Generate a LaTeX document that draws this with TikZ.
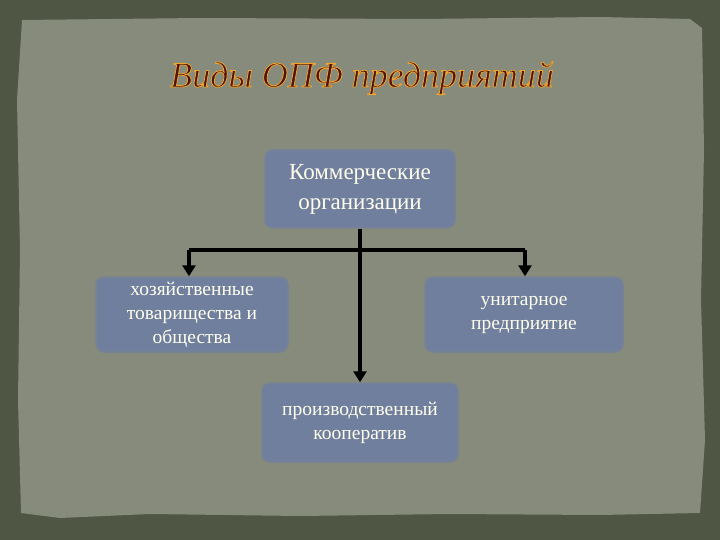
\documentclass[tikz,border=0pt]{standalone}
\usepackage{fontspec}
\setmainfont{Liberation Serif}
\usetikzlibrary{arrows.meta,positioning}
\definecolor{frame}{RGB}{80,86,68}
\definecolor{paper}{RGB}{134,139,124}
\definecolor{boxfill}{RGB}{112,127,158}
\definecolor{titlered}{RGB}{80,20,16}
% outlined title text (fill + gold stroke)
\newcommand\goldtext[1]{\special{pdf:literal direct 2 Tr 0.8 w 0.93 0.64 0.18 RG}#1\special{pdf:literal direct 0 Tr}}
\tikzset{
  orgbox/.style={draw=boxfill!70!paper, line width=1.5pt, fill=boxfill,
    rounded corners=8pt, align=center, text=white!92!yellow,
    font=\fontsize{19.5}{24}\selectfont},
  link/.style={line width=3.5pt, -{Triangle[length=11pt,width=13pt]}}
}
\begin{document}
\begin{tikzpicture}[x=1pt,y=-1pt]
  \useasboundingbox (0,0) rectangle (720,540);
  \fill[frame] (0,0) rectangle (720,540);
  \fill[paper] (22,20) -- (200,18) -- (420,19) -- (600,17)
    -- (690,19) -- (702,28) -- (704,150) -- (701,300) -- (705,440)
    -- (700,513) -- (600,515) -- (450,514) -- (300,516) -- (150,514)
    -- (60,518) -- (21,513) -- (18,400) -- (20,250) -- (17,100) -- cycle;
  \node[text=titlered, font=\itshape\fontsize{36}{40}\selectfont] (title) at (362,78) {\goldtext{Виды ОПФ предприятий}};

  \node[orgbox, minimum width=190pt, minimum height=78pt,
    font=\fontsize{23}{30}\selectfont] (kom) at (360,189) {Коммерческие\\организации};
  \node[orgbox, minimum width=192pt, minimum height=75pt] (hoz) at (192,314.5) {хозяйственные\\товарищества и\\общества};
  \node[orgbox, minimum width=198pt, minimum height=75pt] (uni) at (524,314.5) {унитарное\\предприятие};
  \node[orgbox, minimum width=196pt, minimum height=79pt] (koop) at (360,422.5) {производственный\\кооператив};

  \coordinate (lft) at (189,250);
  \coordinate (rgt) at (525,250);
  \draw[line width=3.5pt] (lft) -- (rgt);
  \draw[link] (kom.south) -- (koop.north);
  \draw[link] (lft) -- (lft |- hoz.north);
  \draw[link] (rgt) -- (rgt |- uni.north);
\end{tikzpicture}
\end{document}
